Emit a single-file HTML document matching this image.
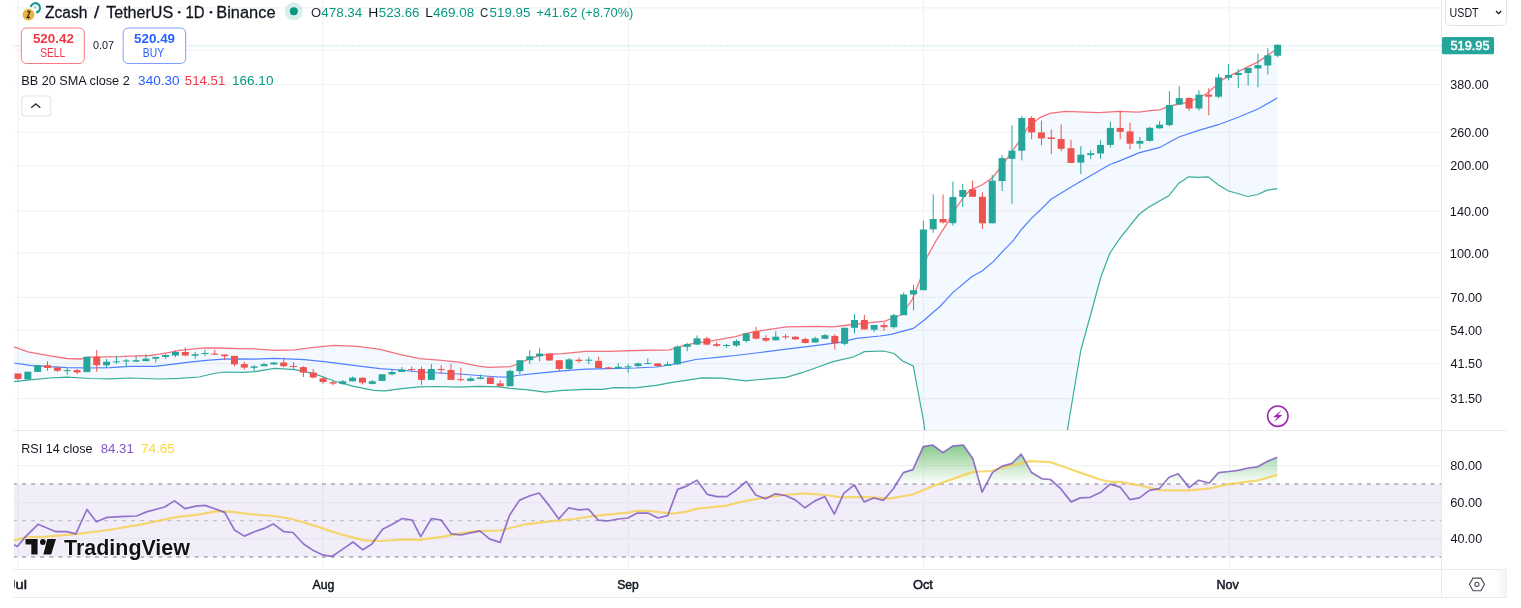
<!DOCTYPE html>
<html><head><meta charset="utf-8"><title>Zcash / TetherUS</title>
<style>html,body{margin:0;padding:0;background:#fff;}body{width:1521px;height:608px;position:relative;overflow:hidden;font-family:"Liberation Sans",sans-serif;}</style>
</head><body>
<svg width="1521" height="608" viewBox="0 0 1521 608" style="position:absolute;left:0;top:0;filter:blur(0.3px)">
<defs>
<clipPath id="mp"><rect x="14" y="0" width="1427.5" height="430"/></clipPath>
<clipPath id="rp"><rect x="14" y="431" width="1427.5" height="138"/></clipPath>
<clipPath id="ob"><rect x="14" y="431" width="1427.5" height="53"/></clipPath>
<linearGradient id="gg" x1="0" y1="431" x2="0" y2="484" gradientUnits="userSpaceOnUse"><stop offset="0" stop-color="#4caf50" stop-opacity="0.9"/><stop offset="1" stop-color="#4caf50" stop-opacity="0"/></linearGradient>
</defs>
<line x1="14" y1="7.8" x2="1441.5" y2="7.8" stroke="#f3f3f5" stroke-width="1.2"/>
<line x1="14" y1="50.3" x2="1441.5" y2="50.3" stroke="#f3f3f5" stroke-width="1.2"/>
<line x1="14" y1="84.5" x2="1441.5" y2="84.5" stroke="#f3f3f5" stroke-width="1.2"/>
<line x1="14" y1="132.3" x2="1441.5" y2="132.3" stroke="#f3f3f5" stroke-width="1.2"/>
<line x1="14" y1="165.8" x2="1441.5" y2="165.8" stroke="#f3f3f5" stroke-width="1.2"/>
<line x1="14" y1="211.2" x2="1441.5" y2="211.2" stroke="#f3f3f5" stroke-width="1.2"/>
<line x1="14" y1="252.8" x2="1441.5" y2="252.8" stroke="#f3f3f5" stroke-width="1.2"/>
<line x1="14" y1="297.3" x2="1441.5" y2="297.3" stroke="#f3f3f5" stroke-width="1.2"/>
<line x1="14" y1="330.3" x2="1441.5" y2="330.3" stroke="#f3f3f5" stroke-width="1.2"/>
<line x1="14" y1="363.6" x2="1441.5" y2="363.6" stroke="#f3f3f5" stroke-width="1.2"/>
<line x1="14" y1="398.6" x2="1441.5" y2="398.6" stroke="#f3f3f5" stroke-width="1.2"/>
<line x1="14" y1="465.7" x2="1441.5" y2="465.7" stroke="#f3f3f5" stroke-width="1.2"/>
<line x1="14" y1="502.6" x2="1441.5" y2="502.6" stroke="#f3f3f5" stroke-width="1.2"/>
<line x1="14" y1="538.6" x2="1441.5" y2="538.6" stroke="#f3f3f5" stroke-width="1.2"/>
<line x1="18.2" y1="0" x2="18.2" y2="569" stroke="#f3f3f5" stroke-width="1.2"/>
<line x1="322.9" y1="0" x2="322.9" y2="569" stroke="#f3f3f5" stroke-width="1.2"/>
<line x1="628.5" y1="0" x2="628.5" y2="569" stroke="#f3f3f5" stroke-width="1.2"/>
<line x1="923.5" y1="0" x2="923.5" y2="569" stroke="#f3f3f5" stroke-width="1.2"/>
<line x1="1229.5" y1="0" x2="1229.5" y2="569" stroke="#f3f3f5" stroke-width="1.2"/>
<g clip-path="url(#mp)">
<polygon points="14.0,346.8 28.0,351.8 50.0,355.8 67.0,358.5 80.0,359.0 90.0,357.2 120.0,356.7 130.0,356.2 149.7,355.5 159.6,354.2 169.5,352.3 179.4,350.3 189.2,349.3 205.0,347.8 218.8,348.0 238.6,348.6 255.0,348.9 274.7,350.4 294.5,349.9 314.2,347.4 334.0,345.4 353.7,346.1 363.6,347.1 380.0,349.3 399.7,354.3 419.5,358.7 439.2,360.2 459.0,362.1 478.7,366.1 488.6,367.4 510.0,366.6 516.5,364.5 528.0,359.4 539.5,355.3 551.0,354.2 562.6,353.6 585.6,351.3 608.6,351.3 635.0,350.5 669.5,349.9 682.6,345.9 695.8,342.9 709.0,341.3 735.3,336.7 748.4,332.8 760.0,330.8 786.3,326.9 817.5,326.3 833.1,326.9 848.8,325.0 864.4,323.1 885.0,321.1 901.4,314.8 912.1,299.8 920.6,278.4 927.0,257.0 936.5,240.0 948.0,221.8 956.1,208.0 964.1,196.5 970.0,190.0 981.5,185.3 993.0,177.2 1006.8,158.8 1018.3,142.6 1027.6,127.6 1039.9,117.6 1049.7,113.3 1065.5,111.3 1099.0,112.7 1118.8,111.3 1138.5,112.1 1150.0,110.7 1159.7,109.9 1169.6,106.0 1189.3,102.0 1207.1,93.5 1222.9,79.3 1238.7,71.4 1258.4,61.6 1277.2,48.7 1277.3,188.6 1267.4,190.1 1257.6,194.5 1247.7,196.5 1228.0,190.8 1218.1,184.7 1208.2,176.8 1198.4,177.3 1188.5,176.8 1178.6,183.4 1168.8,195.8 1149.0,206.9 1139.2,214.3 1119.5,238.9 1109.6,253.7 1100.7,277.5 1090.8,314.0 1080.9,350.0 1070.9,409.0 1061.2,468.0 1050.0,700.0 943.0,700.0 933.3,500.0 923.4,420.0 913.2,366.0 902.6,361.0 894.2,353.5 883.4,351.0 864.4,351.6 853.4,357.0 833.1,361.7 817.5,367.2 801.9,372.7 786.3,377.3 760.0,379.5 745.8,380.8 722.0,378.2 702.4,377.9 682.6,380.8 669.5,382.8 656.3,385.4 635.0,387.8 614.4,387.6 602.9,389.3 585.6,389.3 562.6,390.4 545.3,392.2 528.0,389.9 510.0,388.3 498.5,386.8 478.7,386.3 459.0,387.1 439.2,386.5 419.5,386.8 399.7,388.8 385.0,390.8 373.5,390.3 353.7,386.4 334.0,381.0 314.2,373.6 294.5,369.6 274.7,368.4 255.0,371.6 243.5,372.3 223.8,372.0 214.0,373.5 199.0,377.0 179.4,378.4 159.6,379.0 130.0,378.0 110.0,378.9 90.0,378.5 67.0,377.1 50.0,378.0 30.0,379.8 14.0,381.6" fill="#2196f3" fill-opacity="0.055"/>
<polyline points="14.0,346.8 28.0,351.8 50.0,355.8 67.0,358.5 80.0,359.0 90.0,357.2 120.0,356.7 130.0,356.2 149.7,355.5 159.6,354.2 169.5,352.3 179.4,350.3 189.2,349.3 205.0,347.8 218.8,348.0 238.6,348.6 255.0,348.9 274.7,350.4 294.5,349.9 314.2,347.4 334.0,345.4 353.7,346.1 363.6,347.1 380.0,349.3 399.7,354.3 419.5,358.7 439.2,360.2 459.0,362.1 478.7,366.1 488.6,367.4 510.0,366.6 516.5,364.5 528.0,359.4 539.5,355.3 551.0,354.2 562.6,353.6 585.6,351.3 608.6,351.3 635.0,350.5 669.5,349.9 682.6,345.9 695.8,342.9 709.0,341.3 735.3,336.7 748.4,332.8 760.0,330.8 786.3,326.9 817.5,326.3 833.1,326.9 848.8,325.0 864.4,323.1 885.0,321.1 901.4,314.8 912.1,299.8 920.6,278.4 927.0,257.0 936.5,240.0 948.0,221.8 956.1,208.0 964.1,196.5 970.0,190.0 981.5,185.3 993.0,177.2 1006.8,158.8 1018.3,142.6 1027.6,127.6 1039.9,117.6 1049.7,113.3 1065.5,111.3 1099.0,112.7 1118.8,111.3 1138.5,112.1 1150.0,110.7 1159.7,109.9 1169.6,106.0 1189.3,102.0 1207.1,93.5 1222.9,79.3 1238.7,71.4 1258.4,61.6 1277.2,48.7" fill="none" stroke="#f23645" stroke-width="1.3" stroke-opacity="0.7"/>
<polyline points="14.0,363.0 30.0,365.3 50.0,366.7 67.0,367.6 90.0,368.0 110.0,367.6 130.0,366.4 154.7,366.4 169.5,364.6 189.2,362.1 209.0,360.2 223.8,359.2 238.6,358.9 255.0,359.2 274.7,358.3 304.4,359.7 324.0,361.7 343.8,364.2 363.6,366.7 380.0,368.6 399.7,370.0 419.5,372.0 439.2,373.0 459.0,374.0 478.7,375.5 498.5,377.0 510.0,377.2 516.5,375.5 539.5,373.2 562.6,370.9 585.6,369.1 608.6,368.6 635.0,368.0 656.3,367.0 669.5,365.0 682.6,362.4 695.8,359.5 722.0,356.8 735.3,355.5 760.0,352.5 786.3,349.2 817.5,345.3 840.9,342.2 856.6,338.3 880.0,336.0 891.0,334.4 913.3,328.4 924.4,320.0 930.0,315.0 940.0,306.5 952.8,292.6 972.0,276.5 981.7,271.2 993.4,261.6 1004.1,249.8 1012.6,241.3 1022.3,228.5 1031.9,217.8 1040.0,210.3 1051.0,199.3 1062.9,192.1 1078.7,182.6 1090.5,175.7 1110.0,164.5 1119.7,160.9 1139.5,152.6 1159.2,147.7 1178.9,137.0 1198.7,130.4 1218.4,124.7 1238.2,117.3 1257.9,109.0 1277.2,98.1" fill="none" stroke="#2962ff" stroke-width="1.2" stroke-opacity="0.8"/>
<polyline points="14.0,381.6 30.0,379.8 50.0,378.0 67.0,377.1 90.0,378.5 110.0,378.9 130.0,378.0 159.6,379.0 179.4,378.4 199.0,377.0 214.0,373.5 223.8,372.0 243.5,372.3 255.0,371.6 274.7,368.4 294.5,369.6 314.2,373.6 334.0,381.0 353.7,386.4 373.5,390.3 385.0,390.8 399.7,388.8 419.5,386.8 439.2,386.5 459.0,387.1 478.7,386.3 498.5,386.8 510.0,388.3 528.0,389.9 545.3,392.2 562.6,390.4 585.6,389.3 602.9,389.3 614.4,387.6 635.0,387.8 656.3,385.4 669.5,382.8 682.6,380.8 702.4,377.9 722.0,378.2 745.8,380.8 760.0,379.5 786.3,377.3 801.9,372.7 817.5,367.2 833.1,361.7 853.4,357.0 864.4,351.6 883.4,351.0 894.2,353.5 902.6,361.0 913.2,366.0 923.4,420.0 933.3,500.0 943.0,700.0 1050.0,700.0 1061.2,468.0 1070.9,409.0 1080.9,350.0 1090.8,314.0 1100.7,277.5 1109.6,253.7 1119.5,238.9 1139.2,214.3 1149.0,206.9 1168.8,195.8 1178.6,183.4 1188.5,176.8 1198.4,177.3 1208.2,176.8 1218.1,184.7 1228.0,190.8 1247.7,196.5 1257.6,194.5 1267.4,190.1 1277.3,188.6" fill="none" stroke="#089981" stroke-width="1.2" stroke-opacity="0.8"/>
<rect x="17.50" y="373.5" width="1" height="6.8" fill="#ef5350"/>
<rect x="14.50" y="373.5" width="7.0" height="5.4" fill="#ef5350"/>
<rect x="27.34" y="371.7" width="1" height="7.7" fill="#26a69a"/>
<rect x="24.34" y="371.7" width="7.0" height="7.7" fill="#26a69a"/>
<rect x="37.18" y="365.2" width="1" height="6.7" fill="#26a69a"/>
<rect x="34.18" y="365.2" width="7.0" height="6.7" fill="#26a69a"/>
<rect x="47.02" y="361.3" width="1" height="9.5" fill="#ef5350"/>
<rect x="44.02" y="365.2" width="7.0" height="2.7" fill="#ef5350"/>
<rect x="56.86" y="366.2" width="1" height="5.8" fill="#ef5350"/>
<rect x="53.86" y="367.6" width="7.0" height="3.2" fill="#ef5350"/>
<rect x="66.70" y="368.0" width="1" height="6.8" fill="#26a69a"/>
<rect x="63.70" y="370.1" width="7.0" height="1.0" fill="#26a69a"/>
<rect x="76.55" y="369.0" width="1" height="5.2" fill="#ef5350"/>
<rect x="73.55" y="370.1" width="7.0" height="2.3" fill="#ef5350"/>
<rect x="86.39" y="356.7" width="1" height="15.4" fill="#26a69a"/>
<rect x="83.39" y="356.7" width="7.0" height="15.4" fill="#26a69a"/>
<rect x="96.23" y="350.0" width="1" height="21.7" fill="#ef5350"/>
<rect x="93.23" y="356.7" width="7.0" height="8.5" fill="#ef5350"/>
<rect x="106.07" y="359.0" width="1" height="8.6" fill="#26a69a"/>
<rect x="103.07" y="361.7" width="7.0" height="3.6" fill="#26a69a"/>
<rect x="115.91" y="355.8" width="1" height="8.2" fill="#26a69a"/>
<rect x="112.91" y="361.3" width="7.0" height="1.0" fill="#26a69a"/>
<rect x="125.75" y="359.0" width="1" height="7.7" fill="#26a69a"/>
<rect x="122.75" y="360.4" width="7.0" height="1.1" fill="#26a69a"/>
<rect x="135.59" y="356.2" width="1" height="5.9" fill="#26a69a"/>
<rect x="132.59" y="360.2" width="7.0" height="1.5" fill="#26a69a"/>
<rect x="145.43" y="354.2" width="1" height="7.0" fill="#26a69a"/>
<rect x="142.43" y="358.7" width="7.0" height="2.5" fill="#26a69a"/>
<rect x="155.27" y="356.9" width="1" height="5.7" fill="#26a69a"/>
<rect x="152.27" y="356.9" width="7.0" height="1.8" fill="#26a69a"/>
<rect x="165.11" y="354.2" width="1" height="4.5" fill="#26a69a"/>
<rect x="162.11" y="355.0" width="7.0" height="1.9" fill="#26a69a"/>
<rect x="174.96" y="350.3" width="1" height="6.9" fill="#26a69a"/>
<rect x="171.96" y="352.0" width="7.0" height="3.5" fill="#26a69a"/>
<rect x="184.80" y="347.3" width="1" height="8.9" fill="#ef5350"/>
<rect x="181.80" y="352.0" width="7.0" height="3.5" fill="#ef5350"/>
<rect x="194.64" y="351.8" width="1" height="6.9" fill="#26a69a"/>
<rect x="191.64" y="354.2" width="7.0" height="1.5" fill="#26a69a"/>
<rect x="204.48" y="349.8" width="1" height="6.4" fill="#26a69a"/>
<rect x="201.48" y="353.0" width="7.0" height="1.0" fill="#26a69a"/>
<rect x="214.32" y="349.8" width="1" height="4.9" fill="#ef5350"/>
<rect x="211.32" y="353.6" width="7.0" height="1.1" fill="#ef5350"/>
<rect x="224.16" y="354.5" width="1" height="5.7" fill="#ef5350"/>
<rect x="221.16" y="354.5" width="7.0" height="1.7" fill="#ef5350"/>
<rect x="234.00" y="355.9" width="1" height="10.2" fill="#ef5350"/>
<rect x="231.00" y="355.9" width="7.0" height="8.5" fill="#ef5350"/>
<rect x="243.84" y="361.7" width="1" height="7.9" fill="#ef5350"/>
<rect x="240.84" y="364.1" width="7.0" height="3.5" fill="#ef5350"/>
<rect x="253.68" y="365.1" width="1" height="5.9" fill="#26a69a"/>
<rect x="250.68" y="366.4" width="7.0" height="1.4" fill="#26a69a"/>
<rect x="263.52" y="362.7" width="1" height="3.5" fill="#26a69a"/>
<rect x="260.52" y="364.2" width="7.0" height="2.0" fill="#26a69a"/>
<rect x="273.37" y="362.2" width="1" height="2.5" fill="#26a69a"/>
<rect x="270.37" y="362.5" width="7.0" height="2.0" fill="#26a69a"/>
<rect x="283.21" y="357.8" width="1" height="9.3" fill="#ef5350"/>
<rect x="280.21" y="362.5" width="7.0" height="3.7" fill="#ef5350"/>
<rect x="293.05" y="362.2" width="1" height="6.9" fill="#ef5350"/>
<rect x="290.05" y="365.9" width="7.0" height="1.0" fill="#ef5350"/>
<rect x="302.89" y="366.2" width="1" height="10.8" fill="#ef5350"/>
<rect x="299.89" y="367.1" width="7.0" height="5.5" fill="#ef5350"/>
<rect x="312.73" y="369.1" width="1" height="9.4" fill="#ef5350"/>
<rect x="309.73" y="372.6" width="7.0" height="4.9" fill="#ef5350"/>
<rect x="322.57" y="377.0" width="1" height="6.9" fill="#ef5350"/>
<rect x="319.57" y="378.3" width="7.0" height="3.7" fill="#ef5350"/>
<rect x="332.41" y="381.0" width="1" height="4.4" fill="#ef5350"/>
<rect x="329.41" y="382.3" width="7.0" height="1.3" fill="#ef5350"/>
<rect x="342.25" y="380.0" width="1" height="4.9" fill="#26a69a"/>
<rect x="339.25" y="381.3" width="7.0" height="2.6" fill="#26a69a"/>
<rect x="352.09" y="376.5" width="1" height="4.8" fill="#26a69a"/>
<rect x="349.09" y="377.7" width="7.0" height="3.6" fill="#26a69a"/>
<rect x="361.94" y="377.7" width="1" height="6.7" fill="#ef5350"/>
<rect x="358.94" y="377.7" width="7.0" height="4.9" fill="#ef5350"/>
<rect x="371.78" y="380.0" width="1" height="4.4" fill="#26a69a"/>
<rect x="368.78" y="381.3" width="7.0" height="2.6" fill="#26a69a"/>
<rect x="381.62" y="374.3" width="1" height="6.6" fill="#26a69a"/>
<rect x="378.62" y="374.3" width="7.0" height="6.6" fill="#26a69a"/>
<rect x="391.46" y="370.0" width="1" height="5.5" fill="#26a69a"/>
<rect x="388.46" y="372.0" width="7.0" height="2.3" fill="#26a69a"/>
<rect x="401.30" y="367.1" width="1" height="4.9" fill="#26a69a"/>
<rect x="398.30" y="369.4" width="7.0" height="2.6" fill="#26a69a"/>
<rect x="411.14" y="366.6" width="1" height="5.7" fill="#ef5350"/>
<rect x="408.14" y="369.0" width="7.0" height="1.0" fill="#ef5350"/>
<rect x="420.98" y="366.6" width="1" height="18.3" fill="#ef5350"/>
<rect x="417.98" y="369.0" width="7.0" height="10.9" fill="#ef5350"/>
<rect x="430.82" y="364.1" width="1" height="15.8" fill="#26a69a"/>
<rect x="427.82" y="369.0" width="7.0" height="10.9" fill="#26a69a"/>
<rect x="440.66" y="365.1" width="1" height="8.9" fill="#ef5350"/>
<rect x="437.66" y="369.0" width="7.0" height="1.0" fill="#ef5350"/>
<rect x="450.50" y="364.1" width="1" height="15.8" fill="#ef5350"/>
<rect x="447.50" y="370.0" width="7.0" height="9.9" fill="#ef5350"/>
<rect x="460.34" y="367.6" width="1" height="13.8" fill="#ef5350"/>
<rect x="457.34" y="379.2" width="7.0" height="1.0" fill="#ef5350"/>
<rect x="470.19" y="376.5" width="1" height="4.9" fill="#26a69a"/>
<rect x="467.19" y="378.4" width="7.0" height="2.5" fill="#26a69a"/>
<rect x="480.03" y="374.5" width="1" height="4.9" fill="#26a69a"/>
<rect x="477.03" y="377.4" width="7.0" height="1.5" fill="#26a69a"/>
<rect x="489.87" y="377.4" width="1" height="6.5" fill="#ef5350"/>
<rect x="486.87" y="377.4" width="7.0" height="6.5" fill="#ef5350"/>
<rect x="499.71" y="380.4" width="1" height="5.9" fill="#ef5350"/>
<rect x="496.71" y="383.4" width="7.0" height="2.9" fill="#ef5350"/>
<rect x="509.55" y="369.7" width="1" height="16.7" fill="#26a69a"/>
<rect x="506.55" y="370.9" width="7.0" height="15.3" fill="#26a69a"/>
<rect x="519.39" y="360.2" width="1" height="14.1" fill="#26a69a"/>
<rect x="516.39" y="360.2" width="7.0" height="11.0" fill="#26a69a"/>
<rect x="529.23" y="350.1" width="1" height="13.9" fill="#26a69a"/>
<rect x="526.23" y="356.3" width="7.0" height="3.9" fill="#26a69a"/>
<rect x="539.07" y="348.2" width="1" height="13.1" fill="#26a69a"/>
<rect x="536.07" y="353.6" width="7.0" height="2.7" fill="#26a69a"/>
<rect x="548.91" y="353.6" width="1" height="7.3" fill="#ef5350"/>
<rect x="545.91" y="353.6" width="7.0" height="6.9" fill="#ef5350"/>
<rect x="558.75" y="360.2" width="1" height="11.0" fill="#ef5350"/>
<rect x="555.75" y="360.2" width="7.0" height="8.7" fill="#ef5350"/>
<rect x="568.60" y="358.2" width="1" height="11.5" fill="#26a69a"/>
<rect x="565.60" y="359.4" width="7.0" height="9.5" fill="#26a69a"/>
<rect x="578.44" y="357.6" width="1" height="5.2" fill="#ef5350"/>
<rect x="575.44" y="359.7" width="7.0" height="1.4" fill="#ef5350"/>
<rect x="588.28" y="357.0" width="1" height="7.0" fill="#26a69a"/>
<rect x="585.28" y="359.7" width="7.0" height="1.0" fill="#26a69a"/>
<rect x="598.12" y="356.7" width="1" height="11.3" fill="#ef5350"/>
<rect x="595.12" y="360.9" width="7.0" height="7.1" fill="#ef5350"/>
<rect x="607.96" y="366.8" width="1" height="2.3" fill="#ef5350"/>
<rect x="604.96" y="367.4" width="7.0" height="1.2" fill="#ef5350"/>
<rect x="617.80" y="363.2" width="1" height="5.4" fill="#26a69a"/>
<rect x="614.80" y="366.8" width="7.0" height="1.4" fill="#26a69a"/>
<rect x="627.64" y="364.0" width="1" height="8.6" fill="#26a69a"/>
<rect x="624.64" y="366.3" width="7.0" height="1.0" fill="#26a69a"/>
<rect x="637.48" y="362.4" width="1" height="5.0" fill="#26a69a"/>
<rect x="634.48" y="363.4" width="7.0" height="2.6" fill="#26a69a"/>
<rect x="647.32" y="358.4" width="1" height="5.9" fill="#26a69a"/>
<rect x="644.32" y="363.0" width="7.0" height="1.0" fill="#26a69a"/>
<rect x="657.16" y="363.0" width="1" height="3.6" fill="#ef5350"/>
<rect x="654.16" y="363.4" width="7.0" height="2.6" fill="#ef5350"/>
<rect x="667.01" y="361.7" width="1" height="4.3" fill="#26a69a"/>
<rect x="664.01" y="364.3" width="7.0" height="1.7" fill="#26a69a"/>
<rect x="676.85" y="345.5" width="1" height="19.2" fill="#26a69a"/>
<rect x="673.85" y="346.6" width="7.0" height="17.7" fill="#26a69a"/>
<rect x="686.69" y="342.9" width="1" height="8.3" fill="#26a69a"/>
<rect x="683.69" y="344.2" width="7.0" height="2.6" fill="#26a69a"/>
<rect x="696.53" y="335.4" width="1" height="9.6" fill="#26a69a"/>
<rect x="693.53" y="338.4" width="7.0" height="6.2" fill="#26a69a"/>
<rect x="706.37" y="336.7" width="1" height="8.8" fill="#ef5350"/>
<rect x="703.37" y="338.4" width="7.0" height="6.2" fill="#ef5350"/>
<rect x="716.21" y="342.0" width="1" height="4.8" fill="#ef5350"/>
<rect x="713.21" y="344.2" width="7.0" height="1.7" fill="#ef5350"/>
<rect x="726.05" y="343.7" width="1" height="4.2" fill="#26a69a"/>
<rect x="723.05" y="345.0" width="7.0" height="1.0" fill="#26a69a"/>
<rect x="735.89" y="339.3" width="1" height="7.5" fill="#26a69a"/>
<rect x="732.89" y="341.0" width="7.0" height="4.5" fill="#26a69a"/>
<rect x="745.73" y="333.4" width="1" height="9.2" fill="#26a69a"/>
<rect x="742.73" y="333.4" width="7.0" height="7.6" fill="#26a69a"/>
<rect x="755.57" y="326.8" width="1" height="12.5" fill="#ef5350"/>
<rect x="752.57" y="331.4" width="7.0" height="7.3" fill="#ef5350"/>
<rect x="765.42" y="335.2" width="1" height="6.7" fill="#ef5350"/>
<rect x="762.42" y="338.0" width="7.0" height="2.6" fill="#ef5350"/>
<rect x="775.26" y="331.3" width="1" height="9.0" fill="#26a69a"/>
<rect x="772.26" y="336.7" width="7.0" height="3.6" fill="#26a69a"/>
<rect x="785.10" y="334.0" width="1" height="5.4" fill="#ef5350"/>
<rect x="782.10" y="336.3" width="7.0" height="1.0" fill="#ef5350"/>
<rect x="794.94" y="336.2" width="1" height="3.6" fill="#ef5350"/>
<rect x="791.94" y="336.7" width="7.0" height="2.7" fill="#ef5350"/>
<rect x="804.78" y="337.5" width="1" height="5.9" fill="#ef5350"/>
<rect x="801.78" y="339.0" width="7.0" height="4.0" fill="#ef5350"/>
<rect x="814.62" y="336.7" width="1" height="5.8" fill="#26a69a"/>
<rect x="811.62" y="338.3" width="7.0" height="4.2" fill="#26a69a"/>
<rect x="824.46" y="334.0" width="1" height="5.1" fill="#26a69a"/>
<rect x="821.46" y="335.2" width="7.0" height="3.6" fill="#26a69a"/>
<rect x="834.30" y="334.0" width="1" height="15.7" fill="#ef5350"/>
<rect x="831.30" y="335.9" width="7.0" height="7.5" fill="#ef5350"/>
<rect x="844.14" y="327.8" width="1" height="17.5" fill="#26a69a"/>
<rect x="841.14" y="327.8" width="7.0" height="16.0" fill="#26a69a"/>
<rect x="853.98" y="314.0" width="1" height="19.6" fill="#26a69a"/>
<rect x="850.98" y="320.0" width="7.0" height="7.8" fill="#26a69a"/>
<rect x="863.83" y="314.8" width="1" height="14.6" fill="#ef5350"/>
<rect x="860.83" y="320.0" width="7.0" height="9.4" fill="#ef5350"/>
<rect x="873.67" y="325.0" width="1" height="7.0" fill="#26a69a"/>
<rect x="870.67" y="325.0" width="7.0" height="4.7" fill="#26a69a"/>
<rect x="883.51" y="322.3" width="1" height="8.6" fill="#ef5350"/>
<rect x="880.51" y="325.1" width="7.0" height="2.1" fill="#ef5350"/>
<rect x="893.35" y="313.7" width="1" height="15.0" fill="#26a69a"/>
<rect x="890.35" y="315.2" width="7.0" height="12.0" fill="#26a69a"/>
<rect x="903.19" y="292.4" width="1" height="22.8" fill="#26a69a"/>
<rect x="900.19" y="294.5" width="7.0" height="20.7" fill="#26a69a"/>
<rect x="913.03" y="284.9" width="1" height="25.6" fill="#26a69a"/>
<rect x="910.03" y="290.2" width="7.0" height="4.3" fill="#26a69a"/>
<rect x="922.87" y="220.7" width="1" height="69.5" fill="#26a69a"/>
<rect x="919.87" y="229.5" width="7.0" height="60.7" fill="#26a69a"/>
<rect x="932.71" y="194.2" width="1" height="38.6" fill="#26a69a"/>
<rect x="929.71" y="219.0" width="7.0" height="10.3" fill="#26a69a"/>
<rect x="942.55" y="194.5" width="1" height="29.0" fill="#ef5350"/>
<rect x="939.55" y="219.0" width="7.0" height="3.5" fill="#ef5350"/>
<rect x="952.39" y="181.6" width="1" height="43.9" fill="#26a69a"/>
<rect x="949.39" y="197.0" width="7.0" height="26.2" fill="#26a69a"/>
<rect x="962.24" y="183.9" width="1" height="23.1" fill="#26a69a"/>
<rect x="959.24" y="190.0" width="7.0" height="6.8" fill="#26a69a"/>
<rect x="972.08" y="180.6" width="1" height="16.2" fill="#ef5350"/>
<rect x="969.08" y="189.4" width="7.0" height="7.4" fill="#ef5350"/>
<rect x="981.92" y="192.2" width="1" height="36.8" fill="#ef5350"/>
<rect x="978.92" y="196.8" width="7.0" height="26.5" fill="#ef5350"/>
<rect x="991.76" y="174.9" width="1" height="48.4" fill="#26a69a"/>
<rect x="988.76" y="180.6" width="7.0" height="42.7" fill="#26a69a"/>
<rect x="1001.60" y="155.3" width="1" height="35.7" fill="#26a69a"/>
<rect x="998.60" y="158.1" width="7.0" height="23.0" fill="#26a69a"/>
<rect x="1011.44" y="125.3" width="1" height="78.4" fill="#26a69a"/>
<rect x="1008.44" y="150.7" width="7.0" height="8.1" fill="#26a69a"/>
<rect x="1021.28" y="115.7" width="1" height="44.7" fill="#26a69a"/>
<rect x="1018.28" y="118.0" width="7.0" height="32.7" fill="#26a69a"/>
<rect x="1031.12" y="116.1" width="1" height="23.1" fill="#ef5350"/>
<rect x="1028.12" y="118.0" width="7.0" height="14.4" fill="#ef5350"/>
<rect x="1040.96" y="120.6" width="1" height="24.7" fill="#ef5350"/>
<rect x="1037.96" y="132.4" width="7.0" height="6.0" fill="#ef5350"/>
<rect x="1050.80" y="129.5" width="1" height="24.6" fill="#ef5350"/>
<rect x="1047.80" y="137.4" width="7.0" height="1.6" fill="#ef5350"/>
<rect x="1060.65" y="124.5" width="1" height="26.7" fill="#ef5350"/>
<rect x="1057.65" y="139.0" width="7.0" height="9.8" fill="#ef5350"/>
<rect x="1070.49" y="139.7" width="1" height="23.3" fill="#ef5350"/>
<rect x="1067.49" y="148.2" width="7.0" height="14.8" fill="#ef5350"/>
<rect x="1080.33" y="146.2" width="1" height="27.7" fill="#26a69a"/>
<rect x="1077.33" y="154.7" width="7.0" height="7.9" fill="#26a69a"/>
<rect x="1090.17" y="150.2" width="1" height="8.9" fill="#26a69a"/>
<rect x="1087.17" y="153.2" width="7.0" height="1.9" fill="#26a69a"/>
<rect x="1100.01" y="140.3" width="1" height="18.4" fill="#26a69a"/>
<rect x="1097.01" y="144.9" width="7.0" height="8.6" fill="#26a69a"/>
<rect x="1109.85" y="121.6" width="1" height="26.0" fill="#26a69a"/>
<rect x="1106.85" y="127.9" width="7.0" height="17.0" fill="#26a69a"/>
<rect x="1119.69" y="110.7" width="1" height="28.6" fill="#ef5350"/>
<rect x="1116.69" y="127.9" width="7.0" height="3.9" fill="#ef5350"/>
<rect x="1129.53" y="122.6" width="1" height="26.6" fill="#ef5350"/>
<rect x="1126.53" y="131.4" width="7.0" height="12.3" fill="#ef5350"/>
<rect x="1139.37" y="137.0" width="1" height="11.8" fill="#26a69a"/>
<rect x="1136.37" y="140.9" width="7.0" height="2.8" fill="#26a69a"/>
<rect x="1149.21" y="126.8" width="1" height="14.7" fill="#26a69a"/>
<rect x="1146.21" y="127.8" width="7.0" height="13.1" fill="#26a69a"/>
<rect x="1159.06" y="121.2" width="1" height="7.5" fill="#26a69a"/>
<rect x="1156.06" y="124.7" width="7.0" height="3.6" fill="#26a69a"/>
<rect x="1168.90" y="91.2" width="1" height="35.1" fill="#26a69a"/>
<rect x="1165.90" y="105.0" width="7.0" height="20.1" fill="#26a69a"/>
<rect x="1178.74" y="86.2" width="1" height="18.4" fill="#26a69a"/>
<rect x="1175.74" y="98.1" width="7.0" height="6.5" fill="#26a69a"/>
<rect x="1188.58" y="97.1" width="1" height="13.8" fill="#ef5350"/>
<rect x="1185.58" y="98.1" width="7.0" height="10.4" fill="#ef5350"/>
<rect x="1198.42" y="90.2" width="1" height="20.3" fill="#26a69a"/>
<rect x="1195.42" y="94.7" width="7.0" height="13.8" fill="#26a69a"/>
<rect x="1208.26" y="88.2" width="1" height="27.1" fill="#ef5350"/>
<rect x="1205.26" y="94.7" width="7.0" height="2.0" fill="#ef5350"/>
<rect x="1218.10" y="73.8" width="1" height="24.3" fill="#26a69a"/>
<rect x="1215.10" y="77.4" width="7.0" height="19.3" fill="#26a69a"/>
<rect x="1227.94" y="64.0" width="1" height="16.3" fill="#26a69a"/>
<rect x="1224.94" y="75.0" width="7.0" height="2.8" fill="#26a69a"/>
<rect x="1237.78" y="69.1" width="1" height="19.1" fill="#26a69a"/>
<rect x="1234.78" y="73.0" width="7.0" height="2.0" fill="#26a69a"/>
<rect x="1247.62" y="67.9" width="1" height="17.8" fill="#26a69a"/>
<rect x="1244.62" y="67.9" width="7.0" height="5.1" fill="#26a69a"/>
<rect x="1257.47" y="53.7" width="1" height="33.5" fill="#26a69a"/>
<rect x="1254.47" y="65.1" width="7.0" height="3.4" fill="#26a69a"/>
<rect x="1267.31" y="48.2" width="1" height="26.2" fill="#26a69a"/>
<rect x="1264.31" y="55.3" width="7.0" height="10.2" fill="#26a69a"/>
<rect x="1277.15" y="44.2" width="1" height="13.0" fill="#26a69a"/>
<rect x="1274.15" y="44.8" width="7.0" height="10.9" fill="#26a69a"/>
</g>
<line x1="14" y1="45.8" x2="1441.5" y2="45.8" stroke="#26a69a" stroke-width="1" stroke-dasharray="1 1.3" stroke-opacity="0.42"/>
<line x1="14" y1="430.5" x2="1507" y2="430.5" stroke="#eaeaed" stroke-width="1"/>
<line x1="14" y1="569.5" x2="1507" y2="569.5" stroke="#eaeaed" stroke-width="1"/>
<line x1="14" y1="597.5" x2="1507" y2="597.5" stroke="#eaeaed" stroke-width="1"/>
<line x1="1441.5" y1="0" x2="1441.5" y2="598" stroke="#eaeaed" stroke-width="1"/>
<g clip-path="url(#rp)">
<rect x="14" y="484" width="1427.5" height="73" fill="#7e57c2" fill-opacity="0.1"/>
<line x1="14" y1="484" x2="1441.5" y2="484" stroke="#787b86" stroke-width="1.2" stroke-opacity="0.95" stroke-dasharray="4 5.087" stroke-dashoffset="1.04"/>
<line x1="14" y1="520.7" x2="1441.5" y2="520.7" stroke="#787b86" stroke-width="1.2" stroke-opacity="0.4" stroke-dasharray="4 5.087" stroke-dashoffset="1.04"/>
<line x1="14" y1="557" x2="1441.5" y2="557" stroke="#787b86" stroke-width="1.2" stroke-opacity="0.95" stroke-dasharray="4 5.087" stroke-dashoffset="1.04"/>
<g clip-path="url(#ob)"><polygon points="8.0,484.0 8.0,541.0 14.1,544.8 17.4,546.5 25.6,536.6 38.0,524.3 56.0,531.7 66.7,531.7 75.8,533.8 87.0,509.5 96.3,521.8 107.0,517.4 125.1,516.4 136.6,516.0 146.5,511.9 164.6,507.0 174.5,500.9 185.2,508.7 195.9,506.2 204.9,505.4 214.8,508.7 224.7,512.4 234.5,530.0 244.4,536.1 254.3,531.7 264.1,528.4 273.2,523.9 283.9,531.7 292.9,532.5 303.6,544.0 313.5,550.6 323.4,555.2 332.4,556.3 343.1,548.9 353.0,542.0 362.8,549.8 371.9,544.0 382.6,529.2 392.4,524.3 402.3,518.5 412.2,520.2 420.7,536.6 431.4,518.5 441.3,520.2 451.1,533.8 461.0,535.0 479.9,530.9 489.8,539.1 500.1,542.4 509.5,515.2 519.4,500.4 529.2,496.0 539.1,493.0 549.0,505.4 558.8,519.0 568.7,507.8 578.6,509.8 588.5,509.1 598.3,520.2 607.4,521.0 618.1,519.0 627.9,518.0 637.3,513.1 648.0,513.1 657.8,518.0 667.7,515.7 677.6,489.4 686.6,486.1 697.0,480.2 707.2,494.3 717.0,496.6 726.9,496.6 736.8,489.7 746.3,481.5 755.7,495.0 765.6,498.8 775.4,493.8 785.3,495.5 795.2,499.9 805.0,507.8 814.9,500.9 824.8,496.6 834.3,514.1 843.8,493.4 854.2,484.8 864.1,501.9 873.8,498.0 883.5,500.3 893.4,488.8 903.3,472.6 912.9,469.6 923.3,446.6 932.5,445.0 942.9,452.6 952.6,446.1 963.2,445.0 972.9,458.8 982.1,492.2 992.4,472.6 1001.7,466.4 1012.0,463.4 1021.2,454.2 1031.6,472.6 1042.0,478.8 1050.4,479.5 1060.7,488.7 1071.1,501.9 1080.3,497.9 1090.2,497.3 1100.3,492.6 1110.2,484.1 1120.1,487.1 1129.8,499.6 1139.5,497.9 1149.4,490.3 1159.3,488.7 1169.0,477.2 1178.2,473.8 1189.2,487.6 1198.5,480.2 1209.3,483.0 1218.5,472.6 1228.9,471.5 1238.1,470.3 1248.4,468.0 1257.6,466.8 1268.0,461.1 1277.2,457.2 1277.2,484.0" fill="url(#gg)"/></g>
<polyline points="8.0,541.0 14.1,540.4 25.6,537.4 46.2,536.6 75.8,534.1 108.7,530.0 141.6,524.3 174.5,517.4 200.0,514.4 216.4,511.1 232.9,511.9 249.3,514.1 274.0,516.0 292.1,519.0 315.1,525.9 339.8,534.1 364.5,540.4 380.9,541.0 405.6,539.4 419.9,539.9 442.9,536.6 467.6,532.2 484.0,530.9 500.5,530.5 525.1,524.3 549.8,521.3 574.5,519.0 590.9,516.4 607.4,514.7 630.0,512.4 636.4,510.8 648.0,510.8 672.6,513.6 685.8,511.9 697.3,508.7 725.3,505.9 743.4,501.3 760.0,498.3 784.5,495.0 804.2,493.4 825.6,495.0 841.5,497.3 864.6,496.8 889.9,498.7 912.9,494.5 933.7,485.8 954.4,478.4 972.9,471.9 991.3,471.0 1005.1,466.9 1030.5,461.1 1050.4,462.2 1060.7,465.7 1080.3,472.6 1099.9,479.5 1110.2,481.8 1120.6,481.8 1139.0,485.3 1159.8,490.3 1189.7,490.3 1208.1,488.7 1228.9,484.1 1256.5,480.7 1277.2,474.9" fill="none" stroke="#f5d04c" stroke-width="2.2" stroke-opacity="0.8"/>
<polyline points="8.0,541.0 14.1,544.8 17.4,546.5 25.6,536.6 38.0,524.3 56.0,531.7 66.7,531.7 75.8,533.8 87.0,509.5 96.3,521.8 107.0,517.4 125.1,516.4 136.6,516.0 146.5,511.9 164.6,507.0 174.5,500.9 185.2,508.7 195.9,506.2 204.9,505.4 214.8,508.7 224.7,512.4 234.5,530.0 244.4,536.1 254.3,531.7 264.1,528.4 273.2,523.9 283.9,531.7 292.9,532.5 303.6,544.0 313.5,550.6 323.4,555.2 332.4,556.3 343.1,548.9 353.0,542.0 362.8,549.8 371.9,544.0 382.6,529.2 392.4,524.3 402.3,518.5 412.2,520.2 420.7,536.6 431.4,518.5 441.3,520.2 451.1,533.8 461.0,535.0 479.9,530.9 489.8,539.1 500.1,542.4 509.5,515.2 519.4,500.4 529.2,496.0 539.1,493.0 549.0,505.4 558.8,519.0 568.7,507.8 578.6,509.8 588.5,509.1 598.3,520.2 607.4,521.0 618.1,519.0 627.9,518.0 637.3,513.1 648.0,513.1 657.8,518.0 667.7,515.7 677.6,489.4 686.6,486.1 697.0,480.2 707.2,494.3 717.0,496.6 726.9,496.6 736.8,489.7 746.3,481.5 755.7,495.0 765.6,498.8 775.4,493.8 785.3,495.5 795.2,499.9 805.0,507.8 814.9,500.9 824.8,496.6 834.3,514.1 843.8,493.4 854.2,484.8 864.1,501.9 873.8,498.0 883.5,500.3 893.4,488.8 903.3,472.6 912.9,469.6 923.3,446.6 932.5,445.0 942.9,452.6 952.6,446.1 963.2,445.0 972.9,458.8 982.1,492.2 992.4,472.6 1001.7,466.4 1012.0,463.4 1021.2,454.2 1031.6,472.6 1042.0,478.8 1050.4,479.5 1060.7,488.7 1071.1,501.9 1080.3,497.9 1090.2,497.3 1100.3,492.6 1110.2,484.1 1120.1,487.1 1129.8,499.6 1139.5,497.9 1149.4,490.3 1159.3,488.7 1169.0,477.2 1178.2,473.8 1189.2,487.6 1198.5,480.2 1209.3,483.0 1218.5,472.6 1228.9,471.5 1238.1,470.3 1248.4,468.0 1257.6,466.8 1268.0,461.1 1277.2,457.2" fill="none" stroke="#7e57c2" stroke-width="1.7" stroke-opacity="0.82" stroke-linejoin="round"/>
</g>
<circle cx="1277.8" cy="416.2" r="10.2" fill="#fff" stroke="#9c27b0" stroke-width="1.6"/>
<path d="M1281.3 410.2 L1273.2 417.3 L1277.4 417.3 L1273.9 422.1 L1282.4 414.9 L1278.2 414.9 Z" fill="#9c27b0"/>
<g fill="#131313" stroke="#fff" stroke-width="1.2" paint-order="stroke">
<path d="M25.5 539.1 H37.6 V554.6 H31.3 V544.6 H25.5 Z"/>
<circle cx="42.9" cy="542" r="2.9"/>
<path d="M47.3 539.1 H56 L51.2 554.6 H43.3 Z"/>
</g>
<path d="M1473 578.1 H1480.9 L1484.5 584.3 L1480.9 590.7 H1473 L1469.4 584.3 Z" fill="none" stroke="#4a4c55" stroke-width="1.15" stroke-linejoin="round"/>
<circle cx="1476.9" cy="584.3" r="2.1" fill="none" stroke="#4a4c55" stroke-width="1.05"/>
<defs><linearGradient id="sh" x1="0" x2="1"><stop offset="0" stop-color="#000" stop-opacity="0"/><stop offset="1" stop-color="#000" stop-opacity="0.05"/></linearGradient></defs>
<rect x="1496" y="570" width="11" height="27.5" fill="url(#sh)"/>
<path d="M31.04 6.14 A4.7 4.7 0 1 1 36.93 12.34" fill="none" stroke="#17998b" stroke-width="2.2" stroke-linecap="round"/>
<circle cx="35" cy="7.4" r="1.4" fill="#9fd8d0"/>
<circle cx="28.5" cy="14.6" r="6.4" fill="#fff"/>
<circle cx="28.5" cy="14.6" r="5.9" fill="#ebb43a"/>
<path d="M28.6 10.4 V11.6 M27.1 11.8 H30 L27.1 17.4 H30 M28.5 17.6 V18.8" fill="none" stroke="#2a2a2a" stroke-width="1.1"/>
<circle cx="293.8" cy="11.3" r="9" fill="#26a69a" fill-opacity="0.18"/>
<circle cx="293.8" cy="11.3" r="4" fill="#089981"/>
<rect x="21.3" y="28" width="63" height="35.5" rx="5" fill="#fff" stroke="#f7797d" stroke-width="1"/>
<rect x="123.1" y="28" width="62.6" height="35.5" rx="5" fill="#fff" stroke="#7d9cff" stroke-width="1"/>
<rect x="21.8" y="96" width="29" height="20" rx="3" fill="#fff" stroke="#e4e4e6" stroke-width="1.1"/>
<path d="M31.2 107.7 L35.8 103.9 L40.3 107.7" fill="none" stroke="#2e2e33" stroke-width="1.3"/>
<path d="M1445.5 -1 V20 Q1445.5 25.5 1451 25.5 H1501 Q1506.5 25.5 1506.5 20 V-1" fill="#fff" stroke="#e0e3eb" stroke-width="1"/>
<path d="M1496 11 L1498.6 13.6 L1501.2 11" fill="none" stroke="#131722" stroke-width="1.3"/>
<rect x="1442" y="37" width="52" height="17.3" rx="1.5" fill="#26a69a"/>
<g font-family="Liberation Sans, sans-serif">
<text x="45.03" y="17.9" font-size="16.00" fill="#131722" font-weight="normal" textLength="42.45" lengthAdjust="spacingAndGlyphs" stroke="#131722" stroke-width="0.3">Zcash</text>
<text x="93.90" y="17.9" font-size="16.00" fill="#131722" font-weight="normal" textLength="5.26" lengthAdjust="spacingAndGlyphs" stroke="#131722" stroke-width="0.3">/</text>
<text x="106.18" y="17.9" font-size="16.00" fill="#131722" font-weight="normal" textLength="67.00" lengthAdjust="spacingAndGlyphs" stroke="#131722" stroke-width="0.3">TetherUS</text>
<circle cx="179.2" cy="12.2" r="1.3" fill="#131722"/>
<text x="185.48" y="17.9" font-size="16.81" fill="#131722" font-weight="normal" textLength="19.15" lengthAdjust="spacingAndGlyphs" stroke="#131722" stroke-width="0.3">1D</text>
<circle cx="211" cy="12.2" r="1.3" fill="#131722"/>
<text x="216.29" y="17.9" font-size="16.00" fill="#131722" font-weight="normal" textLength="59.25" lengthAdjust="spacingAndGlyphs" stroke="#131722" stroke-width="0.3">Binance</text>
<text x="311.12" y="16.5" font-size="13.14" fill="#2a2e39" font-weight="normal" textLength="10.11" lengthAdjust="spacingAndGlyphs">O</text>
<text x="321.23" y="16.5" font-size="13.14" fill="#089981" font-weight="normal" textLength="41.09" lengthAdjust="spacingAndGlyphs">478.34</text>
<text x="368.19" y="16.5" font-size="13.33" fill="#131722" font-weight="normal" textLength="10.06" lengthAdjust="spacingAndGlyphs">H</text>
<text x="378.77" y="16.5" font-size="13.14" fill="#089981" font-weight="normal" textLength="40.75" lengthAdjust="spacingAndGlyphs">523.66</text>
<text x="425.20" y="16.5" font-size="13.33" fill="#131722" font-weight="normal" textLength="7.62" lengthAdjust="spacingAndGlyphs">L</text>
<text x="433.03" y="16.5" font-size="13.14" fill="#089981" font-weight="normal" textLength="41.29" lengthAdjust="spacingAndGlyphs">469.08</text>
<text x="480.03" y="16.5" font-size="13.14" fill="#2a2e39" font-weight="normal" textLength="8.30" lengthAdjust="spacingAndGlyphs">C</text>
<text x="489.57" y="16.5" font-size="13.14" fill="#089981" font-weight="normal" textLength="40.75" lengthAdjust="spacingAndGlyphs">519.95</text>
<text x="536.34" y="16.5" font-size="13.14" fill="#089981" font-weight="normal" textLength="41.05" lengthAdjust="spacingAndGlyphs">+41.62</text>
<text x="580.93" y="16.5" font-size="12.69" fill="#089981" font-weight="normal" textLength="52.45" lengthAdjust="spacingAndGlyphs">(+8.70%)</text>
<rect x="85.2" y="38" width="37.2" height="13" fill="#fff"/>
<text x="32.90" y="43.1" font-size="12.29" fill="#f23645" font-weight="bold" textLength="41.02" lengthAdjust="spacingAndGlyphs">520.42</text>
<text x="40.14" y="57.2" font-size="12.14" fill="#f23645" font-weight="normal" textLength="25.08" lengthAdjust="spacingAndGlyphs">SELL</text>
<text x="93.07" y="48.7" font-size="11.29" fill="#131722" font-weight="normal" textLength="21.09" lengthAdjust="spacingAndGlyphs">0.07</text>
<text x="134.10" y="43.1" font-size="12.29" fill="#2962ff" font-weight="bold" textLength="40.95" lengthAdjust="spacingAndGlyphs">520.49</text>
<text x="142.87" y="57.2" font-size="12.32" fill="#2962ff" font-weight="normal" textLength="21.25" lengthAdjust="spacingAndGlyphs">BUY</text>
<text x="21.29" y="84.7" font-size="12.83" fill="#131722" font-weight="normal" textLength="108.45" lengthAdjust="spacingAndGlyphs">BB 20 SMA close 2</text>
<text x="138.13" y="84.7" font-size="13.29" fill="#2962ff" font-weight="normal" textLength="41.43" lengthAdjust="spacingAndGlyphs">340.30</text>
<text x="184.87" y="84.7" font-size="13.48" fill="#f23645" font-weight="normal" textLength="40.41" lengthAdjust="spacingAndGlyphs">514.51</text>
<text x="231.98" y="84.7" font-size="13.29" fill="#089981" font-weight="normal" textLength="41.47" lengthAdjust="spacingAndGlyphs">166.10</text>
<text x="21.30" y="452.8" font-size="12.83" fill="#131722" font-weight="normal" textLength="71.10" lengthAdjust="spacingAndGlyphs">RSI 14 close</text>
<text x="100.67" y="452.8" font-size="13.29" fill="#7e57c2" font-weight="normal" textLength="33.26" lengthAdjust="spacingAndGlyphs">84.31</text>
<text x="140.92" y="452.8" font-size="13.29" fill="#fdd835" font-weight="normal" textLength="33.85" lengthAdjust="spacingAndGlyphs">74.65</text>
<text x="1449.60" y="17.3" font-size="12.86" fill="#131722" font-weight="normal" textLength="29.04" lengthAdjust="spacingAndGlyphs">USDT</text>
<text x="1450.49" y="50.1" font-size="12.86" fill="#fff" font-weight="normal" textLength="39.00" lengthAdjust="spacingAndGlyphs" stroke="#fff" stroke-width="0.45">519.95</text>
<text x="1450.36" y="89.2" font-size="12.71" fill="#131722" font-weight="normal" textLength="38.36" lengthAdjust="spacingAndGlyphs">380.00</text>
<text x="1450.17" y="136.7" font-size="12.71" fill="#131722" font-weight="normal" textLength="38.55" lengthAdjust="spacingAndGlyphs">260.00</text>
<text x="1450.17" y="170.2" font-size="12.71" fill="#131722" font-weight="normal" textLength="38.55" lengthAdjust="spacingAndGlyphs">200.00</text>
<text x="1449.85" y="215.7" font-size="12.71" fill="#131722" font-weight="normal" textLength="38.88" lengthAdjust="spacingAndGlyphs">140.00</text>
<text x="1449.85" y="257.7" font-size="12.71" fill="#131722" font-weight="normal" textLength="38.88" lengthAdjust="spacingAndGlyphs">100.00</text>
<text x="1450.16" y="302.2" font-size="12.71" fill="#131722" font-weight="normal" textLength="32.02" lengthAdjust="spacingAndGlyphs">70.00</text>
<text x="1450.29" y="335.2" font-size="12.71" fill="#131722" font-weight="normal" textLength="31.89" lengthAdjust="spacingAndGlyphs">54.00</text>
<text x="1450.55" y="368.4" font-size="12.71" fill="#131722" font-weight="normal" textLength="31.63" lengthAdjust="spacingAndGlyphs">41.50</text>
<text x="1450.35" y="403.0" font-size="12.71" fill="#131722" font-weight="normal" textLength="31.82" lengthAdjust="spacingAndGlyphs">31.50</text>
<text x="1450.29" y="470.4" font-size="12.71" fill="#131722" font-weight="normal" textLength="31.89" lengthAdjust="spacingAndGlyphs">80.00</text>
<text x="1450.16" y="507.2" font-size="12.71" fill="#131722" font-weight="normal" textLength="32.02" lengthAdjust="spacingAndGlyphs">60.00</text>
<text x="1450.55" y="543.2" font-size="12.71" fill="#131722" font-weight="normal" textLength="31.63" lengthAdjust="spacingAndGlyphs">40.00</text>
<text x="312.50" y="588.6" font-size="13.33" fill="#131722" font-weight="normal" textLength="21.93" lengthAdjust="spacingAndGlyphs" stroke="#131722" stroke-width="0.5">Aug</text>
<text x="617.26" y="588.6" font-size="13.14" fill="#131722" font-weight="normal" textLength="21.52" lengthAdjust="spacingAndGlyphs" stroke="#131722" stroke-width="0.5">Sep</text>
<text x="912.92" y="588.6" font-size="13.14" fill="#131722" font-weight="normal" textLength="20.05" lengthAdjust="spacingAndGlyphs" stroke="#131722" stroke-width="0.5">Oct</text>
<text x="1216.39" y="588.6" font-size="13.33" fill="#131722" font-weight="normal" textLength="22.35" lengthAdjust="spacingAndGlyphs" stroke="#131722" stroke-width="0.5">Nov</text>
</g>
<clipPath id="jc"><rect x="14.2" y="570" width="100" height="27"/></clipPath>
<g clip-path="url(#jc)" font-family="Liberation Sans, sans-serif">
<text x="8.28" y="588.6" font-size="12.69" fill="#131722" font-weight="normal" textLength="18.72" lengthAdjust="spacingAndGlyphs" stroke="#131722" stroke-width="0.5">Jul</text>
</g>
<g font-family="Liberation Sans, sans-serif" stroke="#fff" stroke-width="1.2" paint-order="stroke">
<text x="64.09" y="554.6" font-size="22.34" fill="#131313" font-weight="bold" textLength="125.85" lengthAdjust="spacingAndGlyphs">TradingView</text>
</g>
</svg>
</body></html>
